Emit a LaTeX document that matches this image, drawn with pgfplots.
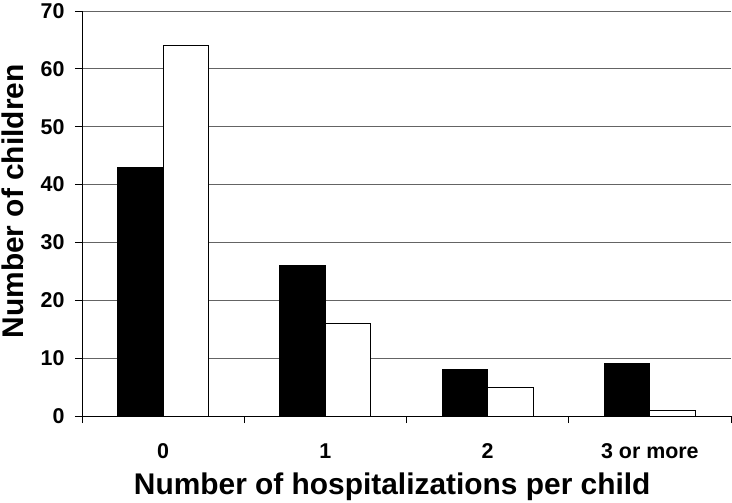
\documentclass[border=0pt]{standalone}
\usepackage{fontspec}
\setmainfont{Liberation Sans}
\usepackage{pgfplots}
\pgfplotsset{compat=1.18}
\definecolor{gridgray}{RGB}{100,100,100}
\begin{document}
\begin{tikzpicture}
\useasboundingbox (0,0) rectangle (732bp,503bp);
\begin{axis}[
  at={(82bp,87bp)}, anchor=south west,
  scale only axis, width=649bp, height=405bp,
  ybar=0pt, bar width=0.28,
  xmin=-0.5, xmax=3.5, ymin=0, ymax=70,
  axis x line*=bottom, axis y line*=left,
  axis line style={line width=1pt, black},
  xtick={0,1,2,3},
  xticklabels={0,1,2,3 or more},
  minor xtick={-0.5,0.5,1.5,2.5,3.5},
  ytick={0,10,...,70},
  tick align=outside,
  major tick length=7bp, minor tick length=7bp,
  x tick style={draw=none},
  minor x tick style={draw=black, line width=1pt},
  y tick style={line width=1pt, black},
  ymajorgrids, grid style={gridgray, line width=1pt},
  tick label style={font=\fontsize{21.5}{23}\selectfont\bfseries},
  xticklabel style={yshift=-17bp},
  yticklabel style={xshift=-7bp},
  /pgf/number format/assume math mode=true,
  xlabel={Number of hospitalizations per child},
  ylabel={Number of children},
  label style={font=\fontsize{30}{33}\selectfont\bfseries},
  xlabel style={at={(axis description cs:0.478,0)}, anchor=center, yshift=-71bp},
  ylabel style={at={(axis description cs:-0.107,0.53)}, anchor=center, rotate=0},
  clip=false,
]
\addplot[fill=black, draw=black, line width=1pt] coordinates {(0,43) (1,26) (2,8) (3,9)};
\addplot[fill=white, draw=black, line width=1pt] coordinates {(0,64) (1,16) (2,5) (3,1)};
\end{axis}
\end{tikzpicture}
\end{document}
